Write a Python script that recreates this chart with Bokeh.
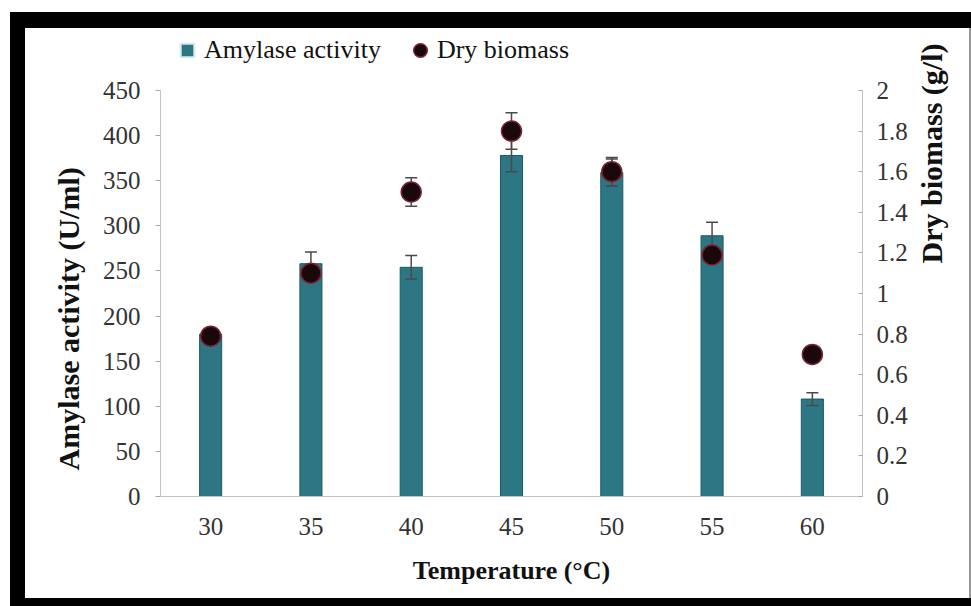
import math

from bokeh.plotting import figure
from bokeh.models import (ColumnDataSource, Range1d, LinearAxis, FixedTicker,
                          Whisker, TeeHead, Legend, LegendItem, Title)
from bokeh.embed import file_html
from bokeh.resources import INLINE

# Incubation temperatures (°C)
temperatures = ["30", "35", "40", "45", "50", "55", "60"]

# Amylase activity (U/ml) with standard deviation
amylase_activity = [180, 258, 254, 378, 359, 289, 108]
amylase_error = [4, 13, 13, 18, 15, 15, 7]

# Dry biomass (g/l) with standard deviation
dry_biomass = [0.79, 1.10, 1.50, 1.80, 1.60, 1.19, 0.70]
biomass_error = [0.02, 0.03, 0.07, 0.09, 0.07, 0.03, 0.02]

# Axis ticks
amylase_ticks = [0, 50, 100, 150, 200, 250, 300, 350, 400, 450]
biomass_ticks = [0, 0.2, 0.4, 0.6, 0.8, 1.0, 1.2, 1.4, 1.6, 1.8, 2.0]
biomass_tick_labels = ["0", "0.2", "0.4", "0.6", "0.8", "1", "1.2", "1.4", "1.6", "1.8", "2"]

AMY_MAX = 450
BIO_MAX = 2

SERIF = "Liberation Serif"
BAR_COLOR = "#2d7684"
ERR_COLOR = "#4a4a4a"

# Layout (pixels): the axes span AXIS_H pixels; the frame reaches higher so
# that the legend can sit inside it above the axes.
BORDER_TOP, BORDER_BOTTOM = 30, 110
BORDER_LEFT, BORDER_RIGHT = 160, 109
FRAME_W, FRAME_H = 702, 466
AXIS_H = 406
amy_end = AMY_MAX * FRAME_H / AXIS_H
bio_end = BIO_MAX * FRAME_H / AXIS_H

src = ColumnDataSource(dict(
    temp=temperatures,
    amylase=amylase_activity,
    a_up=[v + e for v, e in zip(amylase_activity, amylase_error)],
    a_lo=[v - e for v, e in zip(amylase_activity, amylase_error)],
    biomass=dry_biomass,
    b_up=[v + e for v, e in zip(dry_biomass, biomass_error)],
    b_lo=[v - e for v, e in zip(dry_biomass, biomass_error)],
))

p = figure(frame_width=FRAME_W, frame_height=FRAME_H, x_range=temperatures,
           y_range=Range1d(0, amy_end), output_backend="svg", toolbar_location=None,
           min_border_left=BORDER_LEFT, min_border_right=BORDER_RIGHT,
           min_border_top=BORDER_TOP, min_border_bottom=BORDER_BOTTOM)

# Transparent border area over a white page with a black picture frame
# painted as inset shadows of the host element.
p.border_fill_alpha = 0
p.background_fill_color = "white"
p.styles = {
    "background-color": "white",
    "box-shadow": ", ".join([
        "inset 0 12px 0 0 white",
        "inset 10px 0 0 0 white",
        "inset 0 28px 0 0 black",
        "inset 25px 0 0 0 black",
        "inset 0 -8px 0 0 black",
        "inset -2px 0 0 0 #9a9a9a",
    ]),
}
p.outline_line_color = None
p.xgrid.grid_line_color = None
p.ygrid.grid_line_color = None
p.x_range.range_padding = 0

p.extra_y_ranges = {"bio": Range1d(0, bio_end)}

# Bars: amylase activity
bars = p.vbar(x="temp", top="amylase", width=0.22, source=src,
              fill_color=BAR_COLOR, line_color="#1d5863", line_width=1)


def error_bars(upper, lower, **kw):
    return Whisker(base="temp", upper=upper, lower=lower, source=src,
                   line_color=ERR_COLOR, line_width=1.5, level="glyph",
                   upper_head=TeeHead(size=12, line_color=ERR_COLOR, line_width=1.5),
                   lower_head=TeeHead(size=12, line_color=ERR_COLOR, line_width=1.5),
                   **kw)


p.add_layout(error_bars("a_up", "a_lo"))
p.add_layout(error_bars("b_up", "b_lo", y_range_name="bio"))

# Dots: dry biomass on the secondary axis
dots = p.scatter(x="temp", y="biomass", source=src, y_range_name="bio",
                 marker="circle", size=20, fill_color="#1a080b",
                 line_color="#7a2436", line_width=1.5, level="overlay")

# Legend-only swatch for the bars (no drawable points)
swatch_src = ColumnDataSource(dict(temp=temperatures,
                                   y=[float("nan")] * len(temperatures)))
swatch = p.scatter(x="temp", y="y", source=swatch_src, marker="square",
                   fill_color=BAR_COLOR, line_color="#d4ecf0", line_width=2)

legend = Legend(items=[LegendItem(label="Amylase activity", renderers=[swatch]),
                       LegendItem(label="Dry biomass", renderers=[dots])],
                location=(10, AXIS_H + 20), orientation="horizontal",
                glyph_width=34, glyph_height=40, label_standoff=0,
                spacing=22, padding=0, margin=0,
                border_line_color=None, background_fill_alpha=0,
                label_text_font=SERIF, label_text_font_size="26px",
                label_text_color="#111111")
p.add_layout(legend)

# Axes
AXIS_GREY = "#c4c4c4"

xa = p.xaxis[0]
xa.axis_line_color = AXIS_GREY
xa.major_tick_line_color = None
xa.minor_tick_line_color = None
xa.major_label_text_font = SERIF
xa.major_label_text_font_size = "25px"
xa.major_label_text_color = "#333333"
xa.major_label_standoff = 15
xa.axis_label = "Temperature (°C)"
xa.axis_label_text_font = SERIF
xa.axis_label_text_font_style = "bold"
xa.axis_label_text_font_size = "26px"
xa.axis_label_text_color = "#111111"
xa.axis_label_standoff = 18

ya = p.yaxis[0]
ya.ticker = FixedTicker(ticks=amylase_ticks)
ya.bounds = (0, AMY_MAX)
ya.axis_line_color = AXIS_GREY
ya.major_tick_line_color = "#a8a8a8"
ya.major_tick_out = 5
ya.major_tick_in = 0
ya.minor_tick_line_color = None
ya.major_label_text_font = SERIF
ya.major_label_text_font_size = "25px"
ya.major_label_text_color = "#333333"
ya.major_label_standoff = 15

# Left axis title, anchored near the bottom of the axis
p.add_layout(Title(text="Amylase activity (U/ml)", align="left", offset=26,
                   standoff=30, text_font=SERIF, text_font_style="bold",
                   text_font_size="30px", text_color="#111111"), "left")

ra = LinearAxis(y_range_name="bio", ticker=FixedTicker(ticks=biomass_ticks),
                bounds=(0, BIO_MAX))
ra.major_label_overrides = dict(zip(biomass_ticks, biomass_tick_labels))
ra.axis_line_color = AXIS_GREY
ra.major_tick_line_color = "#a8a8a8"
ra.major_tick_out = 0
ra.major_tick_in = 4
ra.minor_tick_line_color = None
ra.major_label_text_font = SERIF
ra.major_label_text_font_size = "25px"
ra.major_label_text_color = "#333333"
ra.major_label_standoff = 14
ra.axis_label = "Dry biomass (g/l)"
ra.axis_label_orientation = math.pi / 2
ra.axis_label_text_align = "center"
ra.axis_label_text_font = SERIF
ra.axis_label_text_font_style = "bold"
ra.axis_label_text_font_size = "30px"
ra.axis_label_text_color = "#111111"
ra.axis_label_standoff = 21
p.add_layout(ra, "right")

open("out.html", "w").write(file_html(p, INLINE))
